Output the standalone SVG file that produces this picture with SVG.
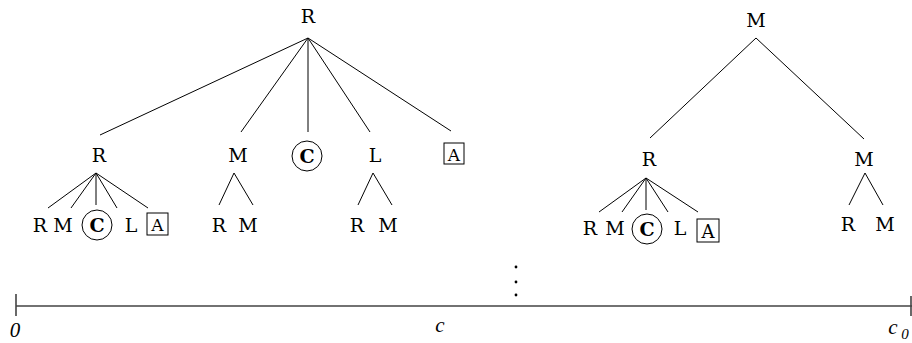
<svg xmlns="http://www.w3.org/2000/svg" width="912" height="343" viewBox="0 0 912 343">
<style>
text{font-family:"DejaVu Serif","Liberation Serif",serif;font-size:19px;fill:#000;text-anchor:middle}
.b{font-weight:bold}
.i{font-family:"Liberation Serif","DejaVu Serif",serif;font-style:italic;font-size:21px}
.e{stroke:#000;stroke-width:1;fill:none}
.ring{stroke:#000;stroke-width:1;fill:none}
.axis{stroke:#444;stroke-width:1.6;fill:none}
</style>
<rect width="912" height="343" fill="#fff"/>
<g id="connectors" class="e">
<path d="M308,38L100,135M308,38L241,132M308,38L308,132M308,38L370,132M308,38L451,131"/>
<path d="M96,173L48,208M96,173L71,208M96,173L96,205M96,173L117,208M96,173L148,208"/>
<path d="M234,173L219,205M234,173L253,205"/>
<path d="M373,173L358,205M373,173L392,205"/>
<path d="M756,38L650,138M756,38L864,139"/>
<path d="M646,178L599,212M646,178L622,212M646,178L646,210M646,178L668,212M646,178L698,212"/>
<path d="M865,173L849,205M865,173L883,205"/>
</g>
<g id="root-R"><text x="308" y="23">R</text></g>
<g id="root-M"><text x="756" y="27">M</text></g>
<g id="l2-R"><text x="99" y="162">R</text></g>
<g id="l2-M"><text x="238" y="162">M</text></g>
<g id="l2-C"><circle class="ring" cx="307" cy="156" r="15"/><text class="b" x="307" y="163">C</text></g>
<g id="l2-L"><text x="375" y="162">L</text></g>
<g id="l2-A"><rect class="ring" x="444" y="143" width="20" height="21"/><text x="454" y="161" style="font-size:17px">A</text></g>
<g id="r2-R"><text x="649" y="166">R</text></g>
<g id="r2-M"><text x="864" y="166">M</text></g>
<g id="l3a-R"><text x="40" y="232">R</text></g>
<g id="l3a-M"><text x="63" y="232">M</text></g>
<g id="l3a-C"><circle class="ring" cx="97" cy="225" r="15"/><text class="b" x="97" y="232">C</text></g>
<g id="l3a-L"><text x="131" y="232">L</text></g>
<g id="l3a-A"><rect class="ring" x="147" y="213" width="21" height="22"/><text x="157.5" y="231" style="font-size:17px">A</text></g>
<g id="l3b-R"><text x="219" y="232">R</text></g>
<g id="l3b-M"><text x="248" y="232">M</text></g>
<g id="l3c-R"><text x="357" y="232">R</text></g>
<g id="l3c-M"><text x="388" y="232">M</text></g>
<g id="r3a-R"><text x="590" y="235">R</text></g>
<g id="r3a-M"><text x="615" y="235">M</text></g>
<g id="r3a-C"><circle class="ring" cx="647" cy="229" r="15"/><text class="b" x="647" y="236">C</text></g>
<g id="r3a-L"><text x="680" y="235">L</text></g>
<g id="r3a-A"><rect class="ring" x="697" y="219" width="22" height="23"/><text x="708" y="238" style="font-size:18px">A</text></g>
<g id="r3b-R"><text x="848" y="231">R</text></g>
<g id="r3b-M"><text x="885" y="231">M</text></g>
<g id="axis">
<path class="axis" d="M16,306H912M16,294V316M911,296V316"/>
<circle cx="516" cy="267" r="1.4"/><circle cx="516" cy="282" r="1.4"/><circle cx="516" cy="295" r="1.4"/>
<text class="i" x="15" y="337">0</text>
<text class="i" x="440" y="332">c</text>
<text class="i" x="893" y="334">c</text><text class="i" x="905" y="339" style="font-size:15px">0</text>
</g>
</svg>
